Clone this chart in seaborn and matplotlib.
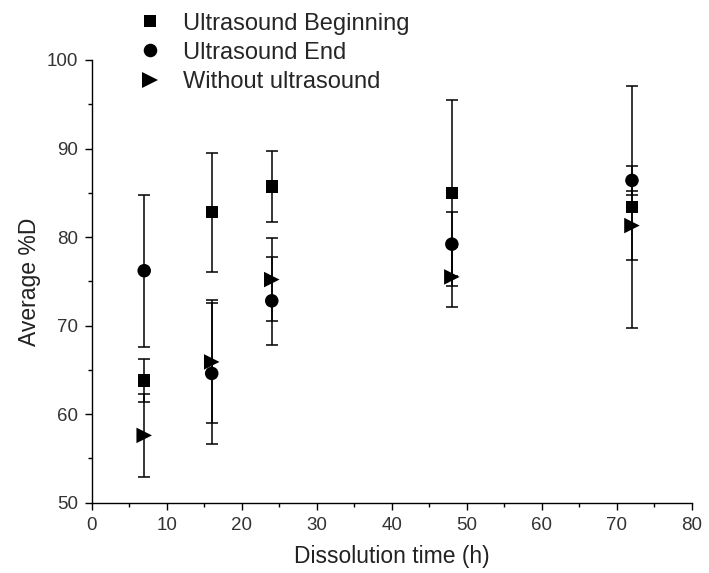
import pandas as pd
import matplotlib.pyplot as plt
import matplotlib.ticker as mticker
import seaborn as sns

# ── DATA ──────────────────────────────────────────────────────────────────────
TIME = [7, 16, 24, 48, 72]

BEGIN     = [63.8, 82.8, 85.7, 85.0, 83.4]
BEGIN_ERR = [2.4, 6.7, 4.0, 10.5, 13.7]

END       = [76.2, 64.6, 72.8, 79.2, 86.4]
END_ERR   = [8.6, 8.0, 4.95, 3.6, 1.6]

WITHOUT     = [57.6, 65.9, 75.2, 75.5, 81.3]
WITHOUT_ERR = [4.7, 6.95, 4.65, 3.4, 3.85]

LABELS = ["Ultrasound Beginning", "Ultrasound End", "Without ultrasound"]
MARKERS = {"Ultrasound Beginning": "s", "Ultrasound End": "o", "Without ultrasound": ">"}
SIZES = {"Ultrasound Beginning": 80, "Ultrasound End": 95, "Without ultrasound": 125}

# ── STYLE ─────────────────────────────────────────────────────────────────────
sns.set_theme(style="ticks")
plt.rcParams["font.family"] = ["Liberation Sans", "DejaVu Sans"]

rows = []
for lab, vals, errs in zip(LABELS, [BEGIN, END, WITHOUT], [BEGIN_ERR, END_ERR, WITHOUT_ERR]):
    for t, v, e in zip(TIME, vals, errs):
        rows.append({"time": t, "value": v, "err": e, "series": lab})
df = pd.DataFrame(rows)

fig = plt.figure(figsize=(7.09, 5.73), dpi=100)
ax = fig.add_axes([0.1293, 0.1227, 0.8467, 0.7726])

for lab in LABELS:
    d = df[df["series"] == lab]
    ax.errorbar(d["time"], d["value"], yerr=d["err"], fmt="none",
                ecolor="black", elinewidth=1.1, capsize=4, capthick=1.1, zorder=2)

sns.scatterplot(data=df, x="time", y="value", style="series", markers=MARKERS,
                style_order=LABELS, size="series", sizes=SIZES, size_order=LABELS,
                color="black", edgecolor="black", linewidth=0, ax=ax, zorder=3)

ax.set_xlim(0, 80)
ax.set_ylim(50, 100)
ax.xaxis.set_major_locator(mticker.MultipleLocator(10))
ax.xaxis.set_minor_locator(mticker.MultipleLocator(5))
ax.yaxis.set_major_locator(mticker.MultipleLocator(10))
ax.yaxis.set_minor_locator(mticker.MultipleLocator(5))
ax.tick_params(which="major", length=5, width=1, direction="out",
               labelsize=13.5, labelcolor="#333333", color="black", pad=5)
ax.tick_params(which="minor", length=3, width=1, direction="out", color="black")
sns.despine(ax=ax)
for sp in ["left", "bottom"]:
    ax.spines[sp].set_color("black")
    ax.spines[sp].set_linewidth(1)

ax.set_xlabel("Dissolution time (h)", fontsize=16.5, color="#222222", labelpad=8)
ax.set_ylabel("Average %D", fontsize=16.5, color="#222222", labelpad=4)

sns.move_legend(ax, "upper left", bbox_to_anchor=(0.1946, 0.978),
                bbox_transform=fig.transFigure, title=None, frameon=False,
                fontsize=17, handlelength=1.0, handletextpad=0.9,
                borderpad=0, borderaxespad=0, labelspacing=0.3, markerscale=1.0)

plt.savefig("out.png", dpi=100)
plt.close()
